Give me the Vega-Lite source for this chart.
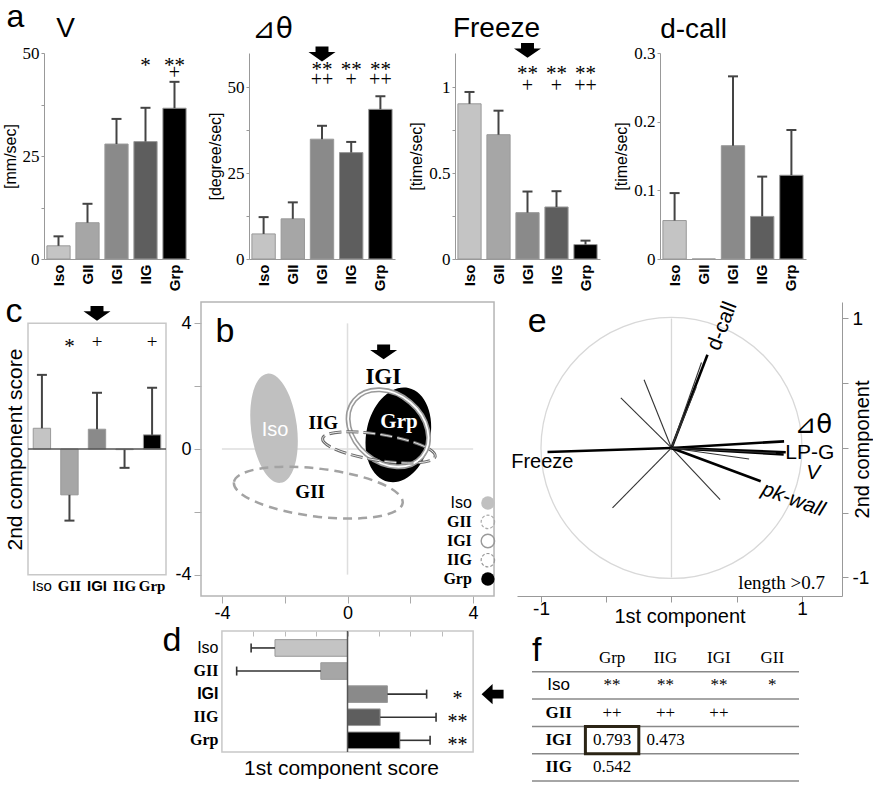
{
"$schema": "https://vega.github.io/schema/vega-lite/v6.json",
"background": "white",
"padding": {"left": 2, "top": 0, "right": 0, "bottom": 0},
"config": {
  "view": {"stroke": null},
  "font": "Liberation Sans",
  "axis": {"grid": false, "labelColor": "#000", "titleColor": "#000", "titleFontWeight": "normal", "domainColor": "#999", "tickColor": "#999"},
  "text": {"color": "#000"}
},
"datasets": {
  "one": [{"k": 0}],
  "bars": [
    {"m":"V","g":"Iso","v":3.2,"hi":5.5},
    {"m":"V","g":"GII","v":8.8,"hi":13.4},
    {"m":"V","g":"IGI","v":27.9,"hi":34.0},
    {"m":"V","g":"IIG","v":28.5,"hi":36.7},
    {"m":"V","g":"Grp","v":36.6,"hi":43.0},
    {"m":"dth","g":"Iso","v":7.3,"hi":12.2},
    {"m":"dth","g":"GII","v":11.7,"hi":16.5},
    {"m":"dth","g":"IGI","v":34.9,"hi":38.8},
    {"m":"dth","g":"IIG","v":31.0,"hi":34.1},
    {"m":"dth","g":"Grp","v":43.6,"hi":47.4},
    {"m":"frz","g":"Iso","v":0.904,"hi":0.973},
    {"m":"frz","g":"GII","v":0.724,"hi":0.864},
    {"m":"frz","g":"IGI","v":0.27,"hi":0.393},
    {"m":"frz","g":"IIG","v":0.303,"hi":0.395},
    {"m":"frz","g":"Grp","v":0.084,"hi":0.107},
    {"m":"dc","g":"Iso","v":0.056,"hi":0.096},
    {"m":"dc","g":"GII","v":0},
    {"m":"dc","g":"IGI","v":0.165,"hi":0.266},
    {"m":"dc","g":"IIG","v":0.062,"hi":0.12},
    {"m":"dc","g":"Grp","v":0.122,"hi":0.188},
    {"m":"c","g":"Iso","v":0.66,"hi":2.36},
    {"m":"c","g":"GII","v":-1.46,"hi":-2.28},
    {"m":"c","g":"IGI","v":0.63,"hi":1.79},
    {"m":"c","g":"IIG","v":-0.02,"hi":-0.6},
    {"m":"c","g":"Grp","v":0.45,"hi":1.95},
    {"m":"d","g":"Iso","v":-2.31,"hi":-3.07},
    {"m":"d","g":"GII","v":-0.85,"hi":-3.53},
    {"m":"d","g":"IGI","v":1.27,"hi":2.52},
    {"m":"d","g":"IIG","v":1.04,"hi":2.82},
    {"m":"d","g":"Grp","v":1.67,"hi":2.63}
  ],
  "sig": [
    {"m":"V","g":"IIG","s":"*"},
    {"m":"V","g":"Grp","s":"**","p":"+"},
    {"m":"dth","g":"IGI","s":"**","p":"++"},
    {"m":"dth","g":"IIG","s":"**","p":"+"},
    {"m":"dth","g":"Grp","s":"**","p":"++"},
    {"m":"frz","g":"IGI","s":"**","p":"+"},
    {"m":"frz","g":"IIG","s":"**","p":"+"},
    {"m":"frz","g":"Grp","s":"**","p":"++"},
    {"m":"c","g":"GII","s":"*"},
    {"m":"c","g":"IGI","p":"+"},
    {"m":"c","g":"Grp","p":"+"},
    {"m":"d","g":"IGI","s":"*"},
    {"m":"d","g":"IIG","s":"**"},
    {"m":"d","g":"Grp","s":"**"}
  ],
  "ell": [
    {"g":"Iso","x":-2.34,"y":0.66},
    {"g":"GII","x":-0.93,"y":-1.39},
    {"g":"Grp","x":1.62,"y":0.45},
    {"g":"IGI","x":1.30,"y":0.66},
    {"g":"IIG","x":1.0,"y":0.05}
  ],
  "vec": [
    {"n":"d-call","x":0.276,"y":0.72,"w":"thick"},
    {"n":"","x":0.23,"y":0.66,"w":"thin"},
    {"n":"","x":0.19,"y":0.47,"w":"thin"},
    {"n":"","x":-0.21,"y":0.527,"w":"thin"},
    {"n":"","x":-0.388,"y":0.386,"w":"thin"},
    {"n":"Freeze","x":-0.95,"y":-0.031,"w":"thick"},
    {"n":"","x":-0.452,"y":-0.463,"w":"thin"},
    {"n":"","x":0.373,"y":-0.399,"w":"thin"},
    {"n":"pk-wall","x":0.684,"y":-0.257,"w":"thick"},
    {"n":"⊿θ","x":0.863,"y":0.051,"w":"thick"},
    {"n":"LP-G","x":0.876,"y":-0.033,"w":"thick"},
    {"n":"V","x":0.86,"y":-0.05,"w":"thick"},
    {"n":"","x":0.595,"y":-0.085,"w":"thin"},
    {"n":"","x":0.8,"y":-0.04,"w":"thin"}
  ],
  "tbl": [
    {"row":"hdr","col":"lab","t":""},
    {"row":"hdr","col":"Grp","t":"Grp"},
    {"row":"hdr","col":"IIG","t":"IIG"},
    {"row":"hdr","col":"IGI","t":"IGI"},
    {"row":"hdr","col":"GII","t":"GII"},
    {"row":"Iso","col":"lab","t":"Iso"},
    {"row":"Iso","col":"Grp","t":"**"},
    {"row":"Iso","col":"IIG","t":"**"},
    {"row":"Iso","col":"IGI","t":"**"},
    {"row":"Iso","col":"GII","t":"*"},
    {"row":"GII","col":"lab","t":"GII"},
    {"row":"GII","col":"Grp","t":"++"},
    {"row":"GII","col":"IIG","t":"++"},
    {"row":"GII","col":"IGI","t":"++"},
    {"row":"IGI","col":"lab","t":"IGI"},
    {"row":"IGI","col":"Grp","t":"0.793"},
    {"row":"IGI","col":"IIG","t":"0.473"},
    {"row":"IIG","col":"lab","t":"IIG"},
    {"row":"IIG","col":"Grp","t":"0.542"}
  ]
},
"spacing": 4,
"vconcat": [
{
  "spacing": 15,
  "bounds": "flush",
  "hconcat": [
  {"width": 1, "height": 1, "data": {"name": "one"}, "mark": {"type": "point", "opacity": 0}, "encoding": {}},
  {
  "spacing": 60,
  "bounds": "flush",
  "hconcat": [
  {
    "width": 145, "height": 206,
    "layer": [
      {"data": {"name": "bars"}, "transform": [{"filter": "datum.m == 'V'"}], "mark": {"type": "bar", "stroke": "#999", "strokeWidth": 1},
       "encoding": {
        "x": {"field": "g", "type": "nominal", "title": null, "scale": {"domain": ["Iso","GII","IGI","IIG","Grp"], "paddingInner": 0.2, "paddingOuter": 0.1}, "axis": {"labelAngle": -90, "labelFont": "Liberation Sans", "labelFontWeight": "bold", "labelFontSize": 15, "ticks": false, "labelPadding": 5}},
        "y": {"field": "v", "type": "quantitative", "title": "[mm/sec]", "scale": {"domain": [0, 50], "nice": false}, "axis": {"values": [0,12.5,25,37.5,50], "labelExpr": "datum.value == 0 ? '0' : datum.value == 25 ? '25' : datum.value == 50 ? '50' : ''", "titleFontSize": 16, "titlePadding": 4, "labelFont": "Liberation Serif", "labelFontSize": 17, "tickSize": 3, "labelPadding": 2}},
        "fill": {"field": "g", "type": "nominal", "scale": {"domain": ["Iso","GII","IGI","IIG","Grp"], "range": ["#c4c4c4","#a6a6a6","#8a8a8a","#5e5e5e","#000000"]}, "legend": null}}},
      {"data": {"name": "bars"}, "transform": [{"filter": "datum.m == 'V' && isValid(datum.hi)"}], "mark": {"type": "rule", "color": "#444", "strokeWidth": 2}, "encoding": {"x": {"field": "g", "type": "nominal", "title": null}, "y": {"field": "v", "type": "quantitative", "title": "[mm/sec]"}, "y2": {"field": "hi"}}},
      {"data": {"name": "bars"}, "transform": [{"filter": "datum.m == 'V' && isValid(datum.hi)"}], "mark": {"type": "tick", "color": "#444", "thickness": 2, "size": 10, "opacity": 1}, "encoding": {"x": {"field": "g", "type": "nominal", "title": null}, "y": {"field": "hi", "type": "quantitative", "title": "[mm/sec]"}}},
      {"data": {"name": "sig"}, "transform": [{"filter": "datum.m == 'V' && isValid(datum.s)"}], "mark": {"type": "text", "font": "Liberation Serif", "fontSize": 21}, "encoding": {"x": {"field": "g", "type": "nominal", "title": null}, "y": {"datum": 46.8}, "text": {"field": "s"}}},
      {"data": {"name": "sig"}, "transform": [{"filter": "datum.m == 'V' && isValid(datum.p)"}], "mark": {"type": "text", "font": "Liberation Serif", "fontSize": 20}, "encoding": {"x": {"field": "g", "type": "nominal", "title": null}, "y": {"datum": 45.1}, "text": {"field": "p"}}},
      {"data": {"name": "one"}, "mark": {"type": "text", "text": "a", "fontSize": 32, "dx": -43}, "encoding": {"x": {"datum": "Iso"}, "y": {"datum": 58.8}}},
      {"data": {"name": "one"}, "mark": {"type": "text", "text": "V", "fontSize": 28, "dx": 7}, "encoding": {"x": {"datum": "Iso"}, "y": {"datum": 55.8}}}
    ]
  },
  {
    "width": 146, "height": 206,
    "layer": [
      {"data": {"name": "bars"}, "transform": [{"filter": "datum.m == 'dth'"}], "mark": {"type": "bar", "stroke": "#999", "strokeWidth": 1},
       "encoding": {
        "x": {"field": "g", "type": "nominal", "title": null, "scale": {"domain": ["Iso","GII","IGI","IIG","Grp"], "paddingInner": 0.2, "paddingOuter": 0.1}, "axis": {"labelAngle": -90, "labelFont": "Liberation Sans", "labelFontWeight": "bold", "labelFontSize": 15, "ticks": false, "labelPadding": 5}},
        "y": {"field": "v", "type": "quantitative", "title": "[degree/sec]", "scale": {"domain": [0, 60], "nice": false}, "axis": {"values": [0,12.5,25,37.5,50], "labelExpr": "datum.value == 0 ? '0' : datum.value == 25 ? '25' : datum.value == 50 ? '50' : ''", "titleFontSize": 16, "titlePadding": 4, "labelFont": "Liberation Serif", "labelFontSize": 17, "tickSize": 3, "labelPadding": 2}},
        "fill": {"field": "g", "type": "nominal", "scale": {"domain": ["Iso","GII","IGI","IIG","Grp"], "range": ["#c4c4c4","#a6a6a6","#8a8a8a","#5e5e5e","#000000"]}, "legend": null}}},
      {"data": {"name": "bars"}, "transform": [{"filter": "datum.m == 'dth' && isValid(datum.hi)"}], "mark": {"type": "rule", "color": "#444", "strokeWidth": 2}, "encoding": {"x": {"field": "g", "type": "nominal", "title": null}, "y": {"field": "v", "type": "quantitative", "title": "[degree/sec]"}, "y2": {"field": "hi"}}},
      {"data": {"name": "bars"}, "transform": [{"filter": "datum.m == 'dth' && isValid(datum.hi)"}], "mark": {"type": "tick", "color": "#444", "thickness": 2, "size": 10, "opacity": 1}, "encoding": {"x": {"field": "g", "type": "nominal", "title": null}, "y": {"field": "hi", "type": "quantitative", "title": "[degree/sec]"}}},
      {"data": {"name": "sig"}, "transform": [{"filter": "datum.m == 'dth' && isValid(datum.s)"}], "mark": {"type": "text", "font": "Liberation Serif", "fontSize": 21}, "encoding": {"x": {"field": "g", "type": "nominal", "title": null}, "y": {"datum": 55.1}, "text": {"field": "s"}}},
      {"data": {"name": "sig"}, "transform": [{"filter": "datum.m == 'dth' && isValid(datum.p)"}], "mark": {"type": "text", "font": "Liberation Serif", "fontSize": 20}, "encoding": {"x": {"field": "g", "type": "nominal", "title": null}, "y": {"datum": 52.2}, "text": {"field": "p"}}},
      {"data": {"name": "one"}, "mark": {"type": "point", "shape": "M -0.48 -0.55 L 0.48 -0.55 L 0.48 -0.15 L 1 -0.15 L 0 0.55 L -1 -0.15 L -0.48 -0.15 Z", "size": 729, "filled": true, "color": "#000", "opacity": 1}, "encoding": {"x": {"datum": "IGI"}, "y": {"datum": 59.7}}},
      {"data": {"name": "one"}, "mark": {"type": "text", "text": "⊿θ", "font": "DejaVu Sans", "fontSize": 28, "dx": 9}, "encoding": {"x": {"datum": "Iso"}, "y": {"datum": 66.7}}}
    ]
  },
  {
    "width": 145, "height": 206,
    "layer": [
      {"data": {"name": "bars"}, "transform": [{"filter": "datum.m == 'frz'"}], "mark": {"type": "bar", "stroke": "#999", "strokeWidth": 1},
       "encoding": {
        "x": {"field": "g", "type": "nominal", "title": null, "scale": {"domain": ["Iso","GII","IGI","IIG","Grp"], "paddingInner": 0.2, "paddingOuter": 0.1}, "axis": {"labelAngle": -90, "labelFont": "Liberation Sans", "labelFontWeight": "bold", "labelFontSize": 15, "ticks": false, "labelPadding": 5}},
        "y": {"field": "v", "type": "quantitative", "title": "[time/sec]", "scale": {"domain": [0, 1.2], "nice": false}, "axis": {"values": [0,0.25,0.5,0.75,1], "labelExpr": "datum.value == 0 ? '0' : datum.value == 0.5 ? '0.5' : datum.value == 1 ? '1' : ''", "titleFontSize": 16, "titlePadding": 4, "labelFont": "Liberation Serif", "labelFontSize": 17, "tickSize": 3, "labelPadding": 2}},
        "fill": {"field": "g", "type": "nominal", "scale": {"domain": ["Iso","GII","IGI","IIG","Grp"], "range": ["#c4c4c4","#a6a6a6","#8a8a8a","#5e5e5e","#000000"]}, "legend": null}}},
      {"data": {"name": "bars"}, "transform": [{"filter": "datum.m == 'frz' && isValid(datum.hi)"}], "mark": {"type": "rule", "color": "#444", "strokeWidth": 2}, "encoding": {"x": {"field": "g", "type": "nominal", "title": null}, "y": {"field": "v", "type": "quantitative", "title": "[time/sec]"}, "y2": {"field": "hi"}}},
      {"data": {"name": "bars"}, "transform": [{"filter": "datum.m == 'frz' && isValid(datum.hi)"}], "mark": {"type": "tick", "color": "#444", "thickness": 2, "size": 10, "opacity": 1}, "encoding": {"x": {"field": "g", "type": "nominal", "title": null}, "y": {"field": "hi", "type": "quantitative", "title": "[time/sec]"}}},
      {"data": {"name": "sig"}, "transform": [{"filter": "datum.m == 'frz' && isValid(datum.s)"}], "mark": {"type": "text", "font": "Liberation Serif", "fontSize": 21}, "encoding": {"x": {"field": "g", "type": "nominal", "title": null}, "y": {"datum": 1.075}, "text": {"field": "s"}}},
      {"data": {"name": "sig"}, "transform": [{"filter": "datum.m == 'frz' && isValid(datum.p)"}], "mark": {"type": "text", "font": "Liberation Serif", "fontSize": 20}, "encoding": {"x": {"field": "g", "type": "nominal", "title": null}, "y": {"datum": 1.01}, "text": {"field": "p"}}},
      {"data": {"name": "one"}, "mark": {"type": "point", "shape": "M -0.48 -0.55 L 0.48 -0.55 L 0.48 -0.15 L 1 -0.15 L 0 0.55 L -1 -0.15 L -0.48 -0.15 Z", "size": 729, "filled": true, "color": "#000", "opacity": 1}, "encoding": {"x": {"datum": "IGI"}, "y": {"datum": 1.215}}},
      {"data": {"name": "one"}, "mark": {"type": "text", "text": "Freeze", "fontSize": 28, "dx": 27}, "encoding": {"x": {"datum": "Iso"}, "y": {"datum": 1.34}}}
    ]
  },
  {
    "width": 146, "height": 206,
    "layer": [
      {"data": {"name": "bars"}, "transform": [{"filter": "datum.m == 'dc'"}], "mark": {"type": "bar", "stroke": "#999", "strokeWidth": 1},
       "encoding": {
        "x": {"field": "g", "type": "nominal", "title": null, "scale": {"domain": ["Iso","GII","IGI","IIG","Grp"], "paddingInner": 0.2, "paddingOuter": 0.1}, "axis": {"labelAngle": -90, "labelFont": "Liberation Sans", "labelFontWeight": "bold", "labelFontSize": 15, "ticks": false, "labelPadding": 5}},
        "y": {"field": "v", "type": "quantitative", "title": "[time/sec]", "scale": {"domain": [0, 0.3], "nice": false}, "axis": {"values": [0,0.1,0.2,0.3], "labelExpr": "datum.value == 0 ? '0' : datum.value < 0.15 ? '0.1' : datum.value < 0.25 ? '0.2' : '0.3'", "titleFontSize": 16, "titlePadding": 4, "labelFont": "Liberation Serif", "labelFontSize": 17, "tickSize": 3, "labelPadding": 2}},
        "fill": {"field": "g", "type": "nominal", "scale": {"domain": ["Iso","GII","IGI","IIG","Grp"], "range": ["#c4c4c4","#a6a6a6","#8a8a8a","#5e5e5e","#000000"]}, "legend": null}}},
      {"data": {"name": "bars"}, "transform": [{"filter": "datum.m == 'dc' && isValid(datum.hi)"}], "mark": {"type": "rule", "color": "#444", "strokeWidth": 2}, "encoding": {"x": {"field": "g", "type": "nominal", "title": null}, "y": {"field": "v", "type": "quantitative", "title": "[time/sec]"}, "y2": {"field": "hi"}}},
      {"data": {"name": "bars"}, "transform": [{"filter": "datum.m == 'dc' && isValid(datum.hi)"}], "mark": {"type": "tick", "color": "#444", "thickness": 2, "size": 10, "opacity": 1}, "encoding": {"x": {"field": "g", "type": "nominal", "title": null}, "y": {"field": "hi", "type": "quantitative", "title": "[time/sec]"}}},
      {"data": {"name": "one"}, "mark": {"type": "text", "text": "d-call", "fontSize": 28, "dx": 19}, "encoding": {"x": {"datum": "Iso"}, "y": {"datum": 0.3335}}}
    ]
  }
  ]
  }
  ]
},
{
  "spacing": -3,
  "vconcat": [
  {
    "hconcat": [
    {
      "width": 138, "height": 294,
      "layer": [
        {"data": {"name": "one"}, "mark": {"type": "rect", "filled": false, "stroke": "#c8c8c8", "strokeWidth": 1.5}, "encoding": {"y": {"datum": 4}, "y2": {"datum": -4}}},
        {"data": {"name": "bars"}, "transform": [{"filter": "datum.m == 'c'"}], "mark": {"type": "bar", "stroke": "#999", "strokeWidth": 1},
         "encoding": {
          "x": {"field": "g", "type": "nominal", "title": null, "scale": {"domain": ["Iso","GII","IGI","IIG","Grp"], "paddingInner": 0.37, "paddingOuter": 0.19}, "axis": {"domain": false, "ticks": false, "offset": -20, "labelPadding": 2, "labelAngle": 0, "labelFontSize": 15, "labelFont": {"condition": {"test": "datum.value == 'Iso' || datum.value == 'IGI'", "value": "Liberation Sans"}, "value": "Liberation Serif"}, "labelFontWeight": {"condition": {"test": "datum.value == 'Iso'", "value": "normal"}, "value": "bold"}}},
          "y": {"field": "v", "type": "quantitative", "title": "2nd component score", "scale": {"domain": [-4.68, 4.68], "nice": false, "zero": false}, "axis": {"titleFontSize": 21, "labels": false, "ticks": false, "domain": false, "titlePadding": 3}},
          "fill": {"field": "g", "type": "nominal", "scale": {"domain": ["Iso","GII","IGI","IIG","Grp"], "range": ["#c4c4c4","#a6a6a6","#8a8a8a","#5e5e5e","#000000"]}, "legend": null}}},
        {"data": {"name": "bars"}, "transform": [{"filter": "datum.m == 'c'"}], "mark": {"type": "rule", "color": "#444", "strokeWidth": 2}, "encoding": {"x": {"field": "g", "type": "nominal", "title": null}, "y": {"field": "v", "type": "quantitative", "title": "2nd component score"}, "y2": {"field": "hi"}}},
        {"data": {"name": "bars"}, "transform": [{"filter": "datum.m == 'c'"}], "mark": {"type": "tick", "color": "#444", "thickness": 2, "size": 10, "opacity": 1}, "encoding": {"x": {"field": "g", "type": "nominal", "title": null}, "y": {"field": "hi", "type": "quantitative", "title": "2nd component score"}}},
        {"data": {"name": "sig"}, "transform": [{"filter": "datum.m == 'c' && isValid(datum.s)"}], "mark": {"type": "text", "font": "Liberation Serif", "fontSize": 21}, "encoding": {"x": {"field": "g", "type": "nominal", "title": null}, "y": {"datum": 3.25}, "text": {"field": "s"}}},
        {"data": {"name": "sig"}, "transform": [{"filter": "datum.m == 'c' && isValid(datum.p)"}], "mark": {"type": "text", "font": "Liberation Serif", "fontSize": 19}, "encoding": {"x": {"field": "g", "type": "nominal", "title": null}, "y": {"datum": 3.4}, "text": {"field": "p"}}},
        {"data": {"name": "one"}, "mark": {"type": "point", "shape": "M -0.48 -0.55 L 0.48 -0.55 L 0.48 -0.15 L 1 -0.15 L 0 0.55 L -1 -0.15 L -0.48 -0.15 Z", "size": 729, "filled": true, "color": "#000", "opacity": 1}, "encoding": {"x": {"datum": "IGI"}, "y": {"datum": 4.32}}},
        {"data": {"name": "one"}, "mark": {"type": "text", "text": "c", "fontSize": 34, "dx": -28}, "encoding": {"x": {"datum": "Iso"}, "y": {"datum": 4.36}}},
        {"data": {"name": "one"}, "mark": {"type": "rule", "color": "#555", "strokeWidth": 1.5}, "encoding": {"y": {"datum": 0}}}
      ]
    },
    {
      "width": 281, "height": 294,
      "layer": [
        {"data": {"name": "one"}, "mark": {"type": "rect", "filled": false, "stroke": "#b5b5b5", "strokeWidth": 1.5}, "encoding": {"x": {"datum": -4.666}, "x2": {"datum": 4.666}}},
        {"data": {"name": "one"}, "mark": {"type": "rule", "color": "#dedede", "strokeWidth": 1.5}, "encoding": {"x": {"datum": 0}, "y": {"datum": -4}, "y2": {"datum": 4}}},
        {"data": {"name": "one"}, "mark": {"type": "rule", "color": "#dedede", "strokeWidth": 1.5}, "encoding": {"y": {"datum": 0}, "x": {"datum": -4}, "x2": {"datum": 4}}},
        {"data": {"name": "ell"}, "transform": [{"filter": "datum.g == 'Iso'"}], "mark": {"type": "point", "shape": "M -0.418 0 A 0.418 1 0 1 0 0.418 0 A 0.418 1 0 1 0 -0.418 0 Z", "size": 12100, "angle": -7, "filled": true, "fill": "#c0c0c0", "stroke": null, "opacity": 1},
         "encoding": {
           "x": {"field": "x", "type": "quantitative", "title": null, "scale": {"domain": [-4.666, 4.283], "nice": false, "zero": false}, "axis": {"values": [-4,-2,0,2,4], "labelExpr": "datum.value == -4 ? '-4' : datum.value == 0 ? '0' : datum.value == 4 ? '4' : ''", "domain": false, "tickSize": 7, "tickColor": "#aaa", "labelFontSize": 18, "labelPadding": 1}},
           "y": {"field": "y", "type": "quantitative", "title": null, "scale": {"domain": [-4.68, 4.68], "nice": false, "zero": false}, "axis": {"values": [-4,-2,0,2,4], "labelExpr": "datum.value == -4 ? '-4' : datum.value == 0 ? '0' : datum.value == 4 ? '4' : ''", "domain": false, "tickSize": 7, "tickColor": "#aaa", "labelFontSize": 18, "labelPadding": 3}}
         }},
        {"data": {"name": "ell"}, "transform": [{"filter": "datum.g == 'GII'"}], "mark": {"type": "point", "shape": "M -1 0 A 1 0.282 0 1 0 1 0 A 1 0.282 0 1 0 -1 0 Z", "size": 28900, "angle": 7, "filled": false, "stroke": "#a3a3a3", "strokeWidth": 2.5, "strokeDash": [9, 6], "opacity": 1}, "encoding": {"x": {"field": "x", "type": "quantitative", "title": null}, "y": {"field": "y", "type": "quantitative", "title": null}}},
        {"data": {"name": "ell"}, "transform": [{"filter": "datum.g == 'Grp'"}], "mark": {"type": "point", "shape": "M -0.667 0 A 0.667 1 0 1 0 0.667 0 A 0.667 1 0 1 0 -0.667 0 Z", "size": 9216, "angle": 12, "filled": true, "fill": "#000", "stroke": null, "opacity": 1}, "encoding": {"x": {"field": "x", "type": "quantitative", "title": null}, "y": {"field": "y", "type": "quantitative", "title": null}}},
        {"data": {"name": "ell"}, "transform": [{"filter": "datum.g == 'IGI'"}], "mark": {"type": "point", "shape": "M -1 0 A 1 0.773 0 1 0 1 0 A 1 0.773 0 1 0 -1 0 Z", "size": 7744, "angle": 40, "filled": false, "stroke": "#9a9a9a", "strokeWidth": 5, "opacity": 1}, "encoding": {"x": {"field": "x", "type": "quantitative", "title": null}, "y": {"field": "y", "type": "quantitative", "title": null}}},
        {"data": {"name": "ell"}, "transform": [{"filter": "datum.g == 'IGI'"}], "mark": {"type": "point", "shape": "M -1 0 A 1 0.773 0 1 0 1 0 A 1 0.773 0 1 0 -1 0 Z", "size": 7744, "angle": 40, "filled": false, "stroke": "#ffffff", "strokeWidth": 1.8, "opacity": 1}, "encoding": {"x": {"field": "x", "type": "quantitative", "title": null}, "y": {"field": "y", "type": "quantitative", "title": null}}},
        {"data": {"name": "ell"}, "transform": [{"filter": "datum.g == 'IIG'"}], "mark": {"type": "point", "shape": "M -1 0 A 1 0.228 0 1 0 1 0 A 1 0.228 0 1 0 -1 0 Z", "size": 12996, "angle": 9, "filled": false, "stroke": "#6a6a6a", "strokeWidth": 3, "strokeDash": [12, 5], "opacity": 1}, "encoding": {"x": {"field": "x", "type": "quantitative", "title": null}, "y": {"field": "y", "type": "quantitative", "title": null}}},
        {"data": {"name": "ell"}, "transform": [{"filter": "datum.g == 'IIG'"}], "mark": {"type": "point", "shape": "M -1 0 A 1 0.228 0 1 0 1 0 A 1 0.228 0 1 0 -1 0 Z", "size": 12996, "angle": 9, "filled": false, "stroke": "#ffffff", "strokeWidth": 0.8, "strokeDash": [12, 5], "opacity": 1}, "encoding": {"x": {"field": "x", "type": "quantitative", "title": null}, "y": {"field": "y", "type": "quantitative", "title": null}}},
        {"data": {"name": "one"}, "mark": {"type": "text", "text": "Iso", "fontSize": 20, "color": "#ffffff"}, "encoding": {"x": {"datum": -2.31}, "y": {"datum": 0.6}}},
        {"data": {"name": "one"}, "mark": {"type": "text", "text": "GII", "font": "Liberation Serif", "fontWeight": "bold", "fontSize": 19}, "encoding": {"x": {"datum": -1.19}, "y": {"datum": -1.36}}},
        {"data": {"name": "one"}, "mark": {"type": "text", "text": "IGI", "font": "Liberation Serif", "fontWeight": "bold", "fontSize": 23}, "encoding": {"x": {"datum": 1.14}, "y": {"datum": 2.28}}},
        {"data": {"name": "one"}, "mark": {"type": "text", "text": "IIG", "font": "Liberation Serif", "fontWeight": "bold", "fontSize": 19}, "encoding": {"x": {"datum": -0.77}, "y": {"datum": 0.82}}},
        {"data": {"name": "one"}, "mark": {"type": "text", "text": "Grp", "font": "Liberation Serif", "fontWeight": "bold", "fontSize": 21, "color": "#ffffff"}, "encoding": {"x": {"datum": 1.64}, "y": {"datum": 0.87}}},
        {"data": {"name": "one"}, "mark": {"type": "point", "shape": "M -0.48 -0.55 L 0.48 -0.55 L 0.48 -0.15 L 1 -0.15 L 0 0.55 L -1 -0.15 L -0.48 -0.15 Z", "size": 729, "filled": true, "color": "#000", "opacity": 1}, "encoding": {"x": {"datum": 1.15}, "y": {"datum": 3.09}}},
        {"data": {"name": "one"}, "mark": {"type": "text", "text": "b", "fontSize": 34}, "encoding": {"x": {"datum": -3.9}, "y": {"datum": 3.71}}},
        {"data": {"name": "one"}, "mark": {"type": "point", "shape": "circle", "size": 180, "filled": true, "fill": "#c0c0c0", "stroke": null, "opacity": 1}, "encoding": {"x": {"datum": 4.47}, "y": {"datum": -1.72}}},
        {"data": {"name": "one"}, "mark": {"type": "point", "shape": "circle", "size": 180, "filled": false, "stroke": "#aaaaaa", "strokeWidth": 1.2, "strokeDash": [3, 2], "opacity": 1}, "encoding": {"x": {"datum": 4.47}, "y": {"datum": -2.32}}},
        {"data": {"name": "one"}, "mark": {"type": "point", "shape": "circle", "size": 180, "filled": false, "stroke": "#999999", "strokeWidth": 1.4, "opacity": 1}, "encoding": {"x": {"datum": 4.47}, "y": {"datum": -2.93}}},
        {"data": {"name": "one"}, "mark": {"type": "point", "shape": "circle", "size": 180, "filled": false, "stroke": "#999999", "strokeWidth": 1.2, "strokeDash": [3, 2], "opacity": 1}, "encoding": {"x": {"datum": 4.47}, "y": {"datum": -3.54}}},
        {"data": {"name": "one"}, "mark": {"type": "point", "shape": "circle", "size": 180, "filled": true, "fill": "#000", "stroke": null, "opacity": 1}, "encoding": {"x": {"datum": 4.47}, "y": {"datum": -4.14}}},
        {"data": {"name": "one"}, "mark": {"type": "text", "text": "Iso", "align": "right", "fontSize": 16}, "encoding": {"x": {"datum": 3.96}, "y": {"datum": -1.72}}},
        {"data": {"name": "one"}, "mark": {"type": "text", "text": "GII", "align": "right", "font": "Liberation Serif", "fontWeight": "bold", "fontSize": 16}, "encoding": {"x": {"datum": 3.96}, "y": {"datum": -2.32}}},
        {"data": {"name": "one"}, "mark": {"type": "text", "text": "IGI", "align": "right", "font": "Liberation Serif", "fontWeight": "bold", "fontSize": 16}, "encoding": {"x": {"datum": 3.96}, "y": {"datum": -2.93}}},
        {"data": {"name": "one"}, "mark": {"type": "text", "text": "IIG", "align": "right", "font": "Liberation Serif", "fontWeight": "bold", "fontSize": 16}, "encoding": {"x": {"datum": 3.96}, "y": {"datum": -3.54}}},
        {"data": {"name": "one"}, "mark": {"type": "text", "text": "Grp", "align": "right", "font": "Liberation Serif", "fontWeight": "bold", "fontSize": 16}, "encoding": {"x": {"datum": 3.96}, "y": {"datum": -4.14}}}
      ]
    },
    {
      "width": 325, "height": 294,
      "layer": [
        {"data": {"name": "one"}, "mark": {"type": "rule", "color": "#d8d8d8", "strokeWidth": 1.3}, "encoding": {"x": {"datum": 0}, "y": {"datum": -1}, "y2": {"datum": 1}}},
        {"data": {"name": "one"}, "mark": {"type": "point", "shape": "circle", "size": 68121, "filled": false, "stroke": "#d8d8d8", "strokeWidth": 1.3, "opacity": 1}, "encoding": {"x": {"datum": 0}, "y": {"datum": 0}}},
        {"data": {"name": "vec"}, "mark": {"type": "rule"},
         "encoding": {
           "x": {"field": "x", "type": "quantitative", "title": "1st component", "scale": {"domain": [-1.184, 1.307], "nice": false, "zero": false}, "axis": {"values": [-1,-0.5,0,0.5,1], "labelExpr": "datum.value == -1 ? '-1' : datum.value == 1 ? '1' : ''", "tickSize": 6, "labelFontSize": 19, "labelPadding": -3, "titleFontSize": 20, "titlePadding": -12}},
           "y": {"field": "y", "type": "quantitative", "title": "2nd component", "scale": {"domain": [-1.143, 1.127], "nice": false, "zero": false}, "axis": {"orient": "right", "values": [-1,-0.5,0,0.5,1], "labelExpr": "datum.value == -1 ? '-1' : datum.value == 1 ? '1' : ''", "tickSize": 6, "labelFontSize": 19, "labelPadding": 4, "titleFontSize": 20, "titleAngle": -90, "titlePadding": 4}},
           "x2": {"datum": 0}, "y2": {"datum": 0},
           "strokeWidth": {"field": "w", "type": "ordinal", "scale": {"domain": ["thick","thin"], "range": [2.6, 1.1]}, "legend": null},
           "stroke": {"field": "w", "type": "nominal", "scale": {"domain": ["thick","thin"], "range": ["#000000","#333333"]}, "legend": null}
         }},
        {"data": {"name": "one"}, "mark": {"type": "text", "text": "d-call", "fontSize": 21, "angle": -69}, "encoding": {"x": {"datum": 0.39}, "y": {"datum": 0.94}}},
        {"data": {"name": "one"}, "mark": {"type": "text", "text": "Freeze", "fontSize": 20}, "encoding": {"x": {"datum": -0.99}, "y": {"datum": -0.106}}},
        {"data": {"name": "one"}, "mark": {"type": "text", "text": "⊿θ", "font": "DejaVu Sans", "fontSize": 26}, "encoding": {"x": {"datum": 1.087}, "y": {"datum": 0.178}}},
        {"data": {"name": "one"}, "mark": {"type": "text", "text": "LP-G", "fontSize": 21}, "encoding": {"x": {"datum": 1.06}, "y": {"datum": -0.04}}},
        {"data": {"name": "one"}, "mark": {"type": "text", "text": "V", "fontSize": 21, "fontStyle": "italic"}, "encoding": {"x": {"datum": 1.087}, "y": {"datum": -0.195}}},
        {"data": {"name": "one"}, "mark": {"type": "text", "text": "pk-wall", "fontSize": 21, "fontStyle": "italic", "angle": 20}, "encoding": {"x": {"datum": 0.933}, "y": {"datum": -0.4}}},
        {"data": {"name": "one"}, "mark": {"type": "text", "text": "length >0.7", "font": "Liberation Serif", "fontSize": 19}, "encoding": {"x": {"datum": 0.845}, "y": {"datum": -1.045}}},
        {"data": {"name": "one"}, "mark": {"type": "text", "text": "e", "fontSize": 34}, "encoding": {"x": {"datum": -1.03}, "y": {"datum": 0.975}}}
      ]
    }
    ],
    "spacing": 35,
    "bounds": "flush"
  },
  {
    "hconcat": [
    {"width": 123, "height": 20, "data": {"name": "one"}, "mark": {"type": "point", "opacity": 0}, "encoding": {}},
    {
      "width": 281, "height": 121,
      "title": {"text": "1st component score", "orient": "bottom", "fontSize": 21, "fontWeight": "normal", "font": "Liberation Sans", "offset": 3, "color": "#000"},
      "layer": [
        {"data": {"name": "one"}, "mark": {"type": "rect", "filled": false, "stroke": "#c8c8c8", "strokeWidth": 1.5}, "encoding": {"x": {"datum": -4}, "x2": {"datum": 4}}},
        {"data": {"name": "bars"}, "transform": [{"filter": "datum.m == 'd'"}], "mark": {"type": "bar", "stroke": "#999", "strokeWidth": 1},
         "encoding": {
          "y": {"field": "g", "type": "nominal", "title": null, "scale": {"domain": ["Iso","GII","IGI","IIG","Grp"], "paddingInner": 0.28, "paddingOuter": 0.26, "align": 0.72}, "axis": {"domain": false, "ticks": false, "offset": -24, "labelPadding": 7, "labelFontSize": 16, "labelFont": {"condition": {"test": "datum.value == 'Iso' || datum.value == 'IGI'", "value": "Liberation Sans"}, "value": "Liberation Serif"}, "labelFontWeight": {"condition": {"test": "datum.value == 'Iso'", "value": "normal"}, "value": "bold"}}},
          "x": {"field": "v", "type": "quantitative", "title": null, "scale": {"domain": [-4.666, 4.283], "nice": false, "zero": false}, "axis": {"orient": "top", "values": [-3,-2,-1,0,1,2,3], "labels": false, "domain": false, "tickSize": 5, "offset": -5, "tickColor": "#bbb"}},
          "fill": {"field": "g", "type": "nominal", "scale": {"domain": ["Iso","GII","IGI","IIG","Grp"], "range": ["#c4c4c4","#a6a6a6","#8a8a8a","#5e5e5e","#000000"]}, "legend": null}}},
        {"data": {"name": "bars"}, "transform": [{"filter": "datum.m == 'd'"}], "mark": {"type": "rule", "color": "#333", "strokeWidth": 1.6}, "encoding": {"y": {"field": "g", "type": "nominal", "title": null}, "x": {"field": "v", "type": "quantitative", "title": null}, "x2": {"field": "hi"}}},
        {"data": {"name": "bars"}, "transform": [{"filter": "datum.m == 'd'"}], "mark": {"type": "tick", "color": "#333", "thickness": 1.6, "size": 9, "opacity": 1}, "encoding": {"y": {"field": "g", "type": "nominal", "title": null}, "x": {"field": "hi", "type": "quantitative", "title": null}}},
        {"data": {"name": "sig"}, "transform": [{"filter": "datum.m == 'd'"}], "mark": {"type": "text", "font": "Liberation Serif", "fontSize": 20, "dy": 5}, "encoding": {"y": {"field": "g", "type": "nominal", "title": null}, "x": {"datum": 3.5}, "text": {"field": "s"}}},
        {"data": {"name": "one"}, "mark": {"type": "point", "shape": "M 1 -0.4 L 0 -0.4 L 0 -0.92 L -1 0 L 0 0.92 L 0 0.4 L 1 0.4 Z", "size": 484, "filled": true, "color": "#000", "opacity": 1}, "encoding": {"x": {"datum": 4.62}, "y": {"datum": "IGI"}}},
        {"data": {"name": "one"}, "mark": {"type": "text", "text": "d", "fontSize": 34, "dy": -7}, "encoding": {"x": {"datum": -5.59}, "y": {"datum": "Iso"}}},
        {"data": {"name": "one"}, "mark": {"type": "rule", "color": "#555", "strokeWidth": 1.5}, "encoding": {"x": {"datum": 0}}}
      ]
    },
    {
      "width": 267, "height": 150,
      "layer": [
        {"data": {"name": "tbl"}, "transform": [{"filter": "datum.col == 'lab'"}], "mark": {"type": "rule", "color": "#888", "strokeWidth": 1.5}, "encoding": {"y": {"field": "row", "type": "nominal", "bandPosition": 1, "scale": {"domain": ["hdr","Iso","GII","IGI","IIG"], "paddingInner": 0, "paddingOuter": 0.248, "align": 1}, "axis": null}}},
        {"data": {"name": "tbl"}, "transform": [{"filter": "datum.t == '0.793'"}], "mark": {"type": "rect", "filled": false, "stroke": "#2b2415", "strokeWidth": 3},
         "encoding": {"x": {"field": "col", "type": "nominal", "scale": {"domain": ["lab","Grp","IIG","IGI","GII"], "paddingInner": 0, "paddingOuter": 0}, "axis": null}, "y": {"field": "row", "type": "nominal"}}},
        {"data": {"name": "tbl"}, "transform": [{"filter": "datum.row == 'hdr' && datum.col != 'lab'"}], "mark": {"type": "text", "font": "Liberation Serif", "fontSize": 17}, "encoding": {"x": {"field": "col", "type": "nominal"}, "y": {"field": "row", "type": "nominal"}, "text": {"field": "t"}}},
        {"data": {"name": "tbl"}, "transform": [{"filter": "datum.col == 'lab' && datum.t == 'Iso'"}], "mark": {"type": "text", "fontSize": 17}, "encoding": {"x": {"field": "col", "type": "nominal"}, "y": {"field": "row", "type": "nominal"}, "text": {"field": "t"}}},
        {"data": {"name": "tbl"}, "transform": [{"filter": "datum.col == 'lab' && datum.row != 'hdr' && datum.t != 'Iso'"}], "mark": {"type": "text", "font": "Liberation Serif", "fontWeight": "bold", "fontSize": 17}, "encoding": {"x": {"field": "col", "type": "nominal"}, "y": {"field": "row", "type": "nominal"}, "text": {"field": "t"}}},
        {"data": {"name": "tbl"}, "transform": [{"filter": "datum.col != 'lab' && datum.row != 'hdr'"}], "mark": {"type": "text", "font": "Liberation Serif", "fontSize": 17}, "encoding": {"x": {"field": "col", "type": "nominal"}, "y": {"field": "row", "type": "nominal"}, "text": {"field": "t"}}},
        {"data": {"name": "one"}, "mark": {"type": "text", "text": "f", "fontSize": 34, "dx": -22, "dy": -7}, "encoding": {"x": {"datum": "lab"}, "y": {"datum": "hdr"}}}
      ]
    }
    ],
    "spacing": 50,
    "bounds": "flush"
  }
  ]
}
]
}
